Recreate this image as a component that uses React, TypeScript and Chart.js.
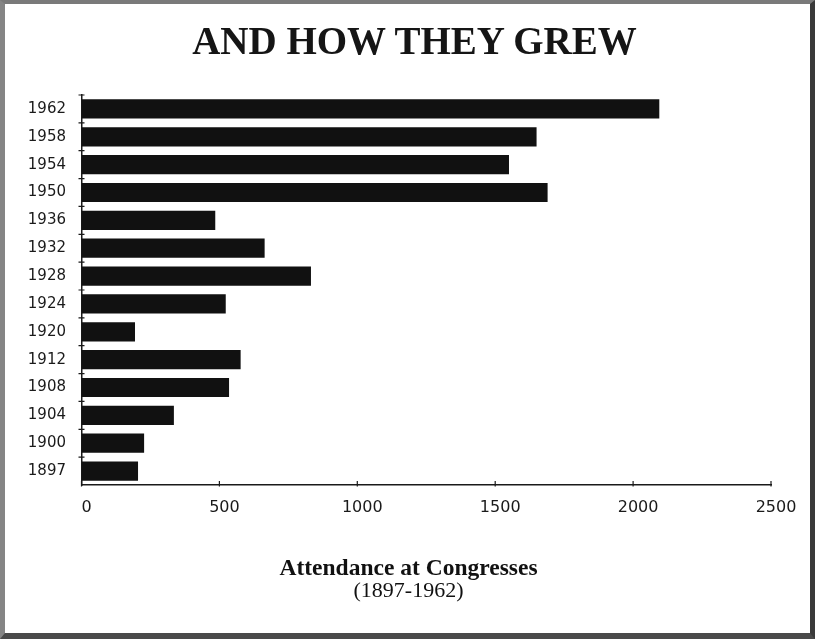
import React, { useEffect, useRef } from "react";
import { Chart, registerables } from "chart.js";

Chart.register(...registerables);

const years = ["1962", "1958", "1954", "1950", "1936", "1932", "1928", "1924", "1920", "1912", "1908", "1904", "1900", "1897"];
const attendance = [2095, 1650, 1550, 1690, 485, 664, 832, 523, 194, 577, 535, 335, 227, 205];
const xTicks = [0, 500, 1000, 1500, 2000, 2500];
const chartTitle = "AND HOW THEY GREW";
const axisTitle = "Attendance at Congresses";
const periodLabel = "(1897-1962)";

const crossTicks = {
  id: "crossTicks",
  afterDraw(chart: any) {
    const { ctx, chartArea, scales } = chart;
    const xs = scales.x;
    const ys = scales.y;
    ctx.save();
    ctx.strokeStyle = "#1a1a1a";
    ctx.lineWidth = 1.2;
    ctx.beginPath();
    xs.ticks.forEach((_t: any, i: number) => {
      const px = xs.getPixelForTick(i);
      ctx.moveTo(px, chartArea.bottom - 4);
      ctx.lineTo(px, chartArea.bottom + 1.5);
    });
    for (let i = 0; i < ys.ticks.length; i++) {
      const py = ys.getPixelForValue(i - 0.5);
      ctx.moveTo(chartArea.left - 3, py);
      ctx.lineTo(chartArea.left + 3, py);
    }
    ctx.stroke();
    ctx.restore();
  },
};

export default function App() {
  const ref = useRef<HTMLCanvasElement | null>(null);
  useEffect(() => {
    if (!ref.current) return;
    const chart = new Chart(ref.current, {
      type: "bar",
      data: {
        labels: years,
        datasets: [
          {
            data: attendance,
            backgroundColor: "#111111",
            borderWidth: 0,
            barPercentage: 0.69,
            categoryPercentage: 1,
          },
        ],
      },
      options: {
        indexAxis: "y",
        responsive: false,
        animation: false,
        layout: { padding: { top: 95, right: 23, bottom: 36.5, left: 23 } },
        plugins: {
          legend: { display: false },
          tooltip: { enabled: false },
          subtitle: {
            display: true,
            position: "bottom",
            text: axisTitle,
            color: "#111",
            font: { family: "'Liberation Serif', serif", size: 23.5, weight: "bold", lineHeight: 1 },
            padding: 0,
          },
          title: {
            display: true,
            position: "bottom",
            text: periodLabel,
            color: "#111",
            font: { family: "'Liberation Serif', serif", size: 22, weight: "normal", lineHeight: 1 },
            padding: 0,
          },
        },
        scales: {
          x: {
            type: "linear",
            min: 0,
            max: 2500,
            afterBuildTicks: (s: any) => {
              s.ticks = xTicks.map((v) => ({ value: v }));
            },
            afterFit: (s: any) => {
              s.height = 72;
            },
            grid: { display: false, drawTicks: false },
            border: { display: true, color: "#1a1a1a", width: 1.5 },
            ticks: {
              color: "#1a1a1a",
              padding: 13,
              labelOffset: 5,
              callback: (v: any) => String(v),
              font: { family: "'DejaVu Sans', sans-serif", size: 16 },
            },
          },
          y: {
            afterFit: (s: any) => {
              s.width = 58.5;
            },
            grid: { display: false, drawTicks: false },
            border: { display: true, color: "#1a1a1a", width: 1.5 },
            ticks: {
              color: "#1a1a1a",
              padding: 15.5,
              font: { family: "'DejaVu Sans', sans-serif", size: 15 },
            },
          },
          yRightSpace: {
            type: "category",
            labels: years,
            position: "right",
            display: true,
            afterFit: (s: any) => {
              s.width = 23;
            },
            grid: { display: false, drawTicks: false },
            border: { display: false },
            ticks: { display: false },
          },
        },
      },
      plugins: [crossTicks],
    });
    return () => chart.destroy();
  }, []);

  return (
    <div style={{ position: "absolute", left: 0, top: 0, width: 817, height: 639, background: "#fff" }}>
      <canvas ref={ref} width={817} height={639} style={{ position: "absolute", left: 0, top: 0 }} />
      <div
        style={{
          position: "absolute",
          left: 6,
          top: 20,
          width: 817,
          textAlign: "center",
          fontFamily: "'Liberation Serif', serif",
          fontWeight: "bold",
          fontSize: 39,
          lineHeight: "41px",
          color: "#151515",
        }}
      >
        {chartTitle}
      </div>
      <div
        style={{
          position: "absolute",
          left: 0,
          top: 0,
          width: 815,
          height: 639,
          boxSizing: "border-box",
          borderStyle: "solid",
          borderWidth: "4px 5px 6px 5px",
          borderColor: "#7a7a7a #3a3a3a #4a4a4a #858585",
          pointerEvents: "none",
        }}
      />
    </div>
  );
}
